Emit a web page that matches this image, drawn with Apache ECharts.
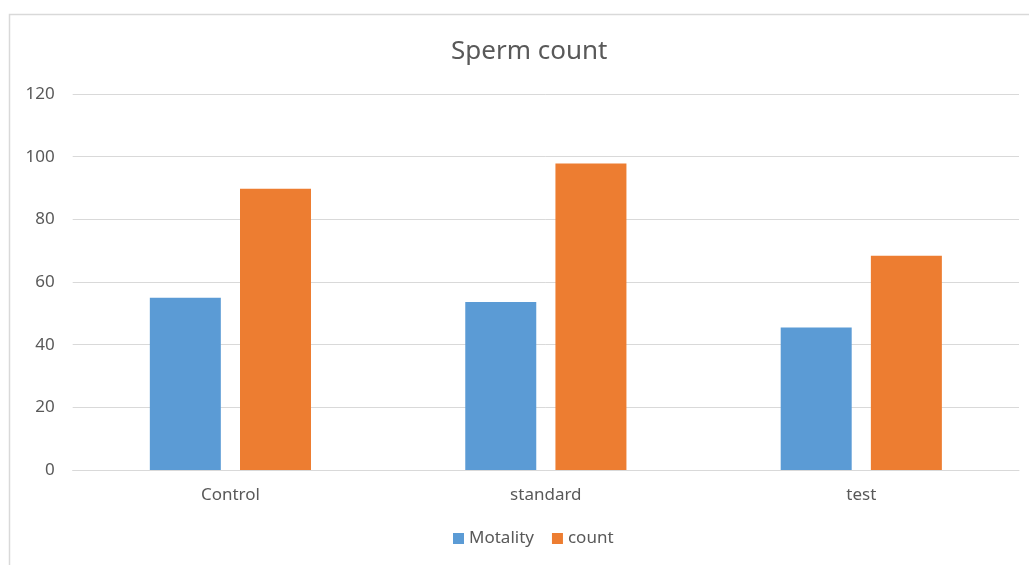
<!DOCTYPE html>
<html>
<head>
<meta charset="utf-8">
<script src="https://cdn.jsdelivr.net/npm/echarts@6/dist/echarts.min.js"></script>
<style>html,body{margin:0;padding:0;background:#fff}#c{width:1029px;height:565px}</style>
</head>
<body>
<div id="c"></div>
<script>
const categories = ['Control', 'standard', 'test'];
const motality = [55, 53.6, 45.5];
const count = [89.8, 97.8, 68.4];
const yTicks = { min: 0, max: 120, interval: 20 };

const chart = echarts.init(document.getElementById('c'));
const font = '"Noto Sans", "Open Sans", sans-serif';
chart.setOption({
  animation: false,
  graphic: [{
    type: 'rect', silent: true,
    shape: { x: 9.5, y: 14.5, width: 1200, height: 800 },
    style: { fill: 'none', stroke: '#d9d9d9', lineWidth: 1.5 }
  }],
  title: {
    text: 'Sperm count', left: 446, top: 34,
    textStyle: { fontFamily: font, fontSize: 26, fontWeight: 'normal', color: '#595959' }
  },
  legend: {
    bottom: 13, left: 448, itemWidth: 11, itemHeight: 11, itemGap: 18,
    icon: 'rect',
    textStyle: { fontFamily: font, fontSize: 17, color: '#595959' },
    data: ['Motality', 'count']
  },
  grid: { left: 72.7, right: 10, top: 94, bottom: 95, containLabel: false },
  xAxis: {
    type: 'category', data: categories,
    axisLine: { lineStyle: { color: '#d9d9d9', width: 1 } },
    axisTick: { show: false },
    axisLabel: { fontFamily: font, fontSize: 17, color: '#595959', margin: 17 }
  },
  yAxis: {
    type: 'value', min: yTicks.min, max: yTicks.max, interval: yTicks.interval,
    axisLine: { show: false }, axisTick: { show: false },
    splitLine: { lineStyle: { color: '#d9d9d9', width: 1 } },
    axisLabel: { fontFamily: font, fontSize: 17, color: '#595959', margin: 18 }
  },
  series: [
    { name: 'Motality', type: 'bar', data: motality, barWidth: 71, barGap: '27%',
      itemStyle: { color: '#5b9bd5' } },
    { name: 'count', type: 'bar', data: count, barWidth: 71, barGap: '27%',
      itemStyle: { color: '#ed7d31' } }
  ]
});
</script>
</body>
</html>
